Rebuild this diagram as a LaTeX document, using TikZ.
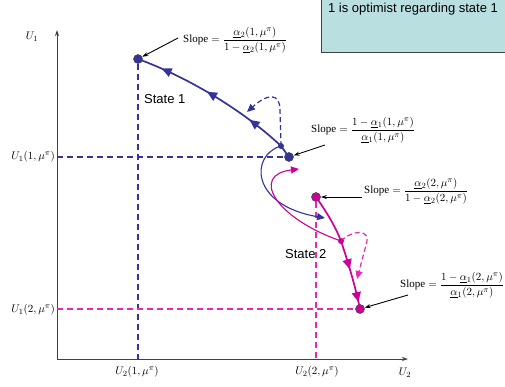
\documentclass[tikz,border=0pt]{standalone}
\usepackage{amsmath}
\usepackage{fontspec}
\setmainfont{Liberation Serif}
\setsansfont{Liberation Sans}
\usetikzlibrary{arrows.meta, positioning, backgrounds, decorations.markings}
\definecolor{stBlue}{RGB}{51,51,153}
\definecolor{stMagenta}{RGB}{204,0,153}
\definecolor{dashPink}{RGB}{232,40,180}
\definecolor{noteFill}{RGB}{185,223,225}
\newcommand{\ua}[1]{\underline{\alpha}_{#1}}
\newcommand{\mpi}[1]{\!\left(#1,\mu^{\pi}\right)}

\begin{document}
\begin{tikzpicture}[x=1pt, y=-1pt,
  axis/.style={-{Stealth[length=6pt, width=4pt]}, draw=black!75, line width=0.9pt},
  guide/.style={dash pattern=on 6pt off 4pt, line width=1.2pt},
  bigdot/.style={circle, draw=black!70, line width=0.6pt, inner sep=0pt, minimum size=9pt},
  smalldot/.style={circle, inner sep=0pt, minimum size=6pt},
  slope/.style={anchor=west, inner sep=0pt, font=\fontsize{11}{13}\selectfont},
  pointer/.style={-{Stealth[length=6pt, width=4pt]}, line width=0.9pt},
  tick/.style={inner sep=1pt, font=\fontsize{11}{13}\selectfont},
  state/.style={anchor=west, inner sep=0pt, font=\sffamily\fontsize{13}{15}\selectfont},
  notebox/.style={draw=black!75, fill=noteFill, line width=1pt},
  thickpath/.style={line width=1.7pt},
  thinpath/.style={line width=1.1pt, -{Triangle[length=8pt, width=7pt]}},
  loop/.style={dash pattern=on 5pt off 3pt, line width=1.2pt, -{Triangle[length=8pt, width=7pt]}},
  bigtip/.tip={Triangle[length=10pt, width=9pt]}
]
  \useasboundingbox (0,0) rectangle (505,386);

  % Note box
  \node[notebox, anchor=north west, minimum width=186pt, minimum height=54pt] (note) at (321,-2) {};
  \node[anchor=north, inner sep=0pt, font=\sffamily\fontsize{13}{15}\selectfont] (noteText) at (413,3)
    {1 is optimist regarding state 1};

  % Axes
  \coordinate (origin) at (57,359);
  \coordinate (yEnd) at (57,30);
  \coordinate (xEnd) at (408,359);
  \node[tick] (yLab) at (32,37) {$U_1$};
  \node[tick] (xLab) at (405,373) {$U_2$};

  % State points
  \node[bigdot, fill=stBlue] (s1top) at (138,59) {};
  \node[smalldot, fill=stBlue] (s1mid) at (281,146) {};
  \node[bigdot, fill=stBlue] (s1low) at (289,157) {};
  \node[bigdot, fill=stMagenta] (s2top) at (316,197) {};
  \node[smalldot, fill=stMagenta] (s2mid) at (341,241) {};
  \node[bigdot, fill=stMagenta] (s2low) at (360,309) {};

  % Tick labels
  \node[tick, anchor=east] (u1one) at (56,157) {$U_1\mpi{1}$};
  \node[tick, anchor=east] (u1two) at (56,310) {$U_1\mpi{2}$};
  \node[tick] (u2one) at (137,372) {$U_2\mpi{1}$};
  \node[tick] (u2two) at (317,372) {$U_2\mpi{2}$};

  % State labels
  \node[state] (state1) at (144,99) {State 1};
  \node[state] (state2) at (285,254) {State 2};

  % Slope labels
  \node[slope] (slope1) at (183,40)
    {Slope${}=\dfrac{\ua2\mpi{1}}{1-\ua2\mpi{1}}$};
  \node[slope] (slope2) at (311,130)
    {Slope${}=\dfrac{1-\ua1\mpi{1}}{\ua1\mpi{1}}$};
  \node[slope] (slope3) at (364,191)
    {Slope${}=\dfrac{\ua2\mpi{2}}{1-\ua2\mpi{2}}$};
  \node[slope] (slope4) at (400,285)
    {Slope${}=\dfrac{1-\ua1\mpi{2}}{\ua1\mpi{2}}$};
  \coordinate (tail1) at (178,38);
  \coordinate (tail2) at (325,145);
  \coordinate (tail3) at (362,197);
  \coordinate (tail4) at (408,295);

  \begin{scope}[on background layer]
    \draw[axis] (origin) -- (yEnd);
    \draw[axis] (origin) -- (xEnd);

    % Dashed guides
    \draw[guide, stBlue] (s1top) -- (s1top |- origin);
    \draw[guide, stBlue] (s1low -| origin) -- (s1low);
    \draw[guide, dashPink] (s2top) -- (s2top |- origin);
    \draw[guide, dashPink] (s2low -| origin) -- (s2low);

    % State 1 path
    \draw[thickpath, stBlue, postaction={decorate, decoration={markings,
        mark=at position 0.30 with {\arrow{bigtip}},
        mark=at position 0.58 with {\arrow{bigtip}},
        mark=at position 0.86 with {\arrow{bigtip}}}}]
      (s1low.center) -- (s1mid.center) .. controls (245,112) and (190,78) .. (s1top.center);
    \draw[loop, stBlue] (s1mid.center) -- (280,110) .. controls (280,93) and (268,93) .. (247,112);
    \draw[thinpath, stBlue] (s1mid.center) .. controls (250,155) and (250,205) .. (325,218);

    % State 2 path
    \draw[thickpath, stMagenta] (s2top.center) .. controls (328,214) and (336,228) .. (s2mid.center);
    \draw[thickpath, stMagenta, postaction={decorate, decoration={markings,
        mark=at position 0.42 with {\arrow{bigtip}},
        mark=at position 0.90 with {\arrow{bigtip}}}}]
      (s2mid.center) .. controls (348,262) and (355,285) .. (s2low.center);
    \draw[loop, dashPink] (s2mid.center) .. controls (352,230) and (372,228) .. (366,245) -- (357,279);
    \draw[thinpath, stMagenta] (s2mid.center) .. controls (275,218) and (250,175) .. (299,169);

    % Pointers to the slopes
    \draw[pointer] (tail1) -- (s1top);
    \draw[pointer] (tail2) -- (s1low);
    \draw[pointer] (tail3) -- (s2top);
    \draw[pointer] (tail4) -- (s2low);
  \end{scope}
\end{tikzpicture}
\end{document}
